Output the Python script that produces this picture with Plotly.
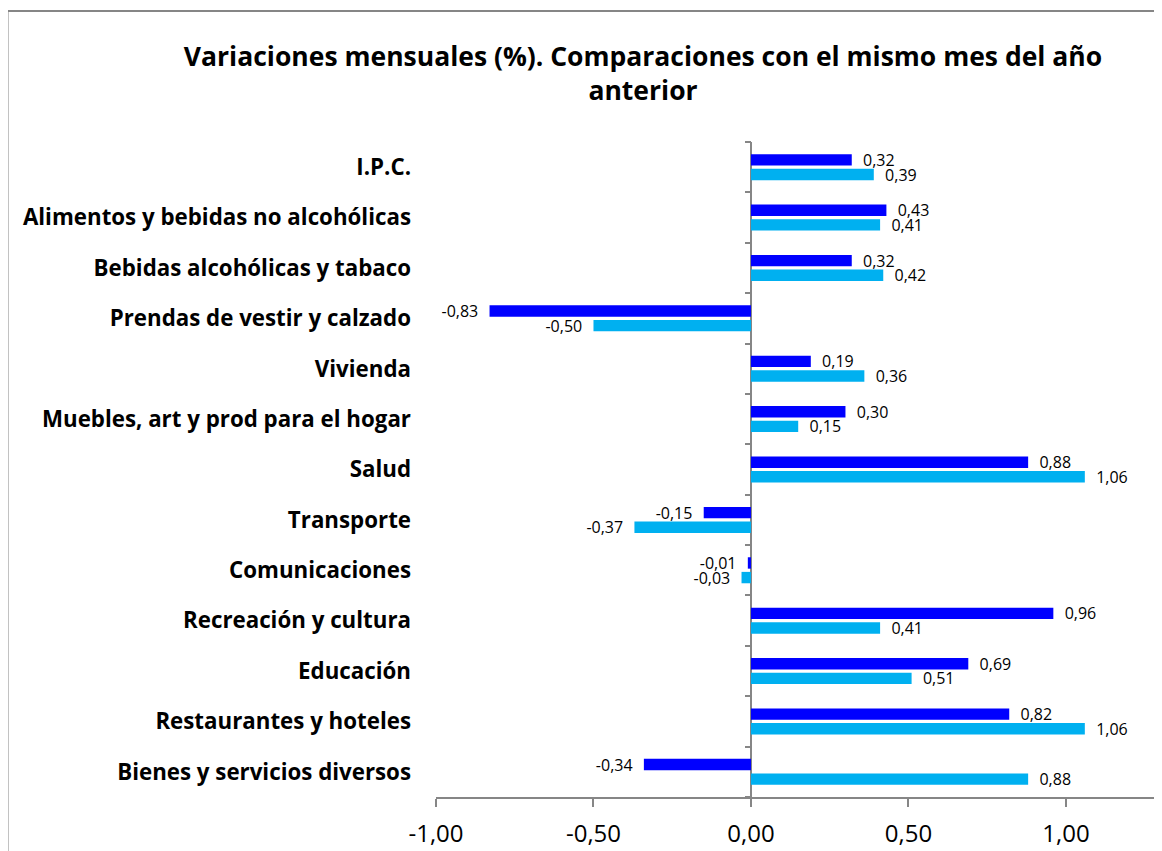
import plotly.graph_objects as go

categories = [
    "I.P.C.",
    "Alimentos y bebidas no alcohólicas",
    "Bebidas alcohólicas y tabaco",
    "Prendas de vestir y calzado",
    "Vivienda",
    "Muebles, art y prod para el hogar",
    "Salud",
    "Transporte",
    "Comunicaciones",
    "Recreación y cultura",
    "Educación",
    "Restaurantes y hoteles",
    "Bienes y servicios diversos",
]
serie_a = [0.32, 0.43, 0.32, -0.83, 0.19, 0.30, 0.88, -0.15, -0.01, 0.96, 0.69, 0.82, -0.34]
serie_b = [0.39, 0.41, 0.42, -0.50, 0.36, 0.15, 1.06, -0.37, -0.03, 0.41, 0.51, 1.06, 0.88]
x_ticks = [-1.0, -0.5, 0.0, 0.5, 1.0]
x_tick_labels = ["-1,00", "-0,50", "0,00", "0,50", "1,00"]

pos = list(range(len(categories)))
bounds = [i - 0.5 for i in range(len(categories) + 1)]

FONT = "'Open Sans', sans-serif"
W, H = 1162, 851
# page has an 8px body margin; margins compensate so the plot lands where the reference has it
L, R, T, B = 428, 8, 134, 62
PW, PH = W - L - R, H - T - B

PAD = "\u00a0\u00a0"


def label(v):
    s = f"{v:.2f}".replace(".", ",")
    return PAD + s if v >= 0 else s + PAD


fig = go.Figure()
for name, vals, col in [("Serie 1", serie_a, "#0000FF"), ("Serie 2", serie_b, "#00B0F0")]:
    fig.add_trace(go.Bar(
        y=pos, x=vals, orientation="h", name=name,
        marker=dict(color=col, line=dict(width=0)),
        text=[label(v) for v in vals],
        textposition="outside", cliponaxis=False, constraintext="none",
        textfont=dict(family=FONT, size=16, color="#000000"),
    ))

# invisible trace on secondary y for the category tick marks at x=0
fig.add_trace(go.Scatter(x=[0], y=[0], yaxis="y2", mode="markers",
                         marker=dict(opacity=0), showlegend=False, hoverinfo="skip"))

xmin, xmax = -1.0, 1.305
fig.update_layout(
    width=W, height=H,
    margin=dict(l=L, r=R, t=T, b=B),
    paper_bgcolor="white", plot_bgcolor="white",
    separators=",.",
    showlegend=False,
    barmode="group", bargap=0.42, bargroupgap=0.22,
    title=dict(
        text="Variaciones mensuales (%). Comparaciones con el mismo mes del año<br>anterior",
        x=635 / W, xref="container", xanchor="center",
        y=1 - 58 / H, yref="container", yanchor="middle",
        font=dict(family=FONT, size=26.5, color="#000000", weight="bold"),
    ),
    xaxis=dict(
        range=[xmin, xmax], tickvals=x_ticks, ticktext=x_tick_labels,
        showgrid=False, zeroline=True, zerolinecolor="#868686", zerolinewidth=1.5,
        showline=True, linecolor="#868686", linewidth=1.5,
        ticks="outside", ticklen=8, tickcolor="#868686", tickwidth=1.5,
        tickfont=dict(family=FONT, size=24, color="#000000"),
        ticklabelstandoff=6,
    ),
    yaxis=dict(
        range=[len(categories) - 0.5, -0.5],
        tickvals=pos, ticktext=categories,
        showgrid=False, zeroline=False, showline=False, ticks="",
        tickfont=dict(family=FONT, size=22.3, color="#000000", weight="bold"),
        ticklabelstandoff=24,
    ),
    yaxis2=dict(
        overlaying="y", anchor="free",
        position=(0 - xmin) / (xmax - xmin),
        range=[len(categories) - 0.5, -0.5],
        tickvals=bounds, showticklabels=False,
        showgrid=False, zeroline=False, showline=False,
        ticks="outside", ticklen=6, tickcolor="#868686", tickwidth=1.5,
    ),
    shapes=[dict(
        type="rect", xref="paper", yref="paper",
        x0=(-0.5 - L) / PW, x1=1.2,
        y0=-0.3, y1=(PH + T - 3) / PH,
        line=dict(color="#868686", width=2), fillcolor="rgba(0,0,0,0)",
        layer="below",
    )],
)

fig.write_html("out.html")
